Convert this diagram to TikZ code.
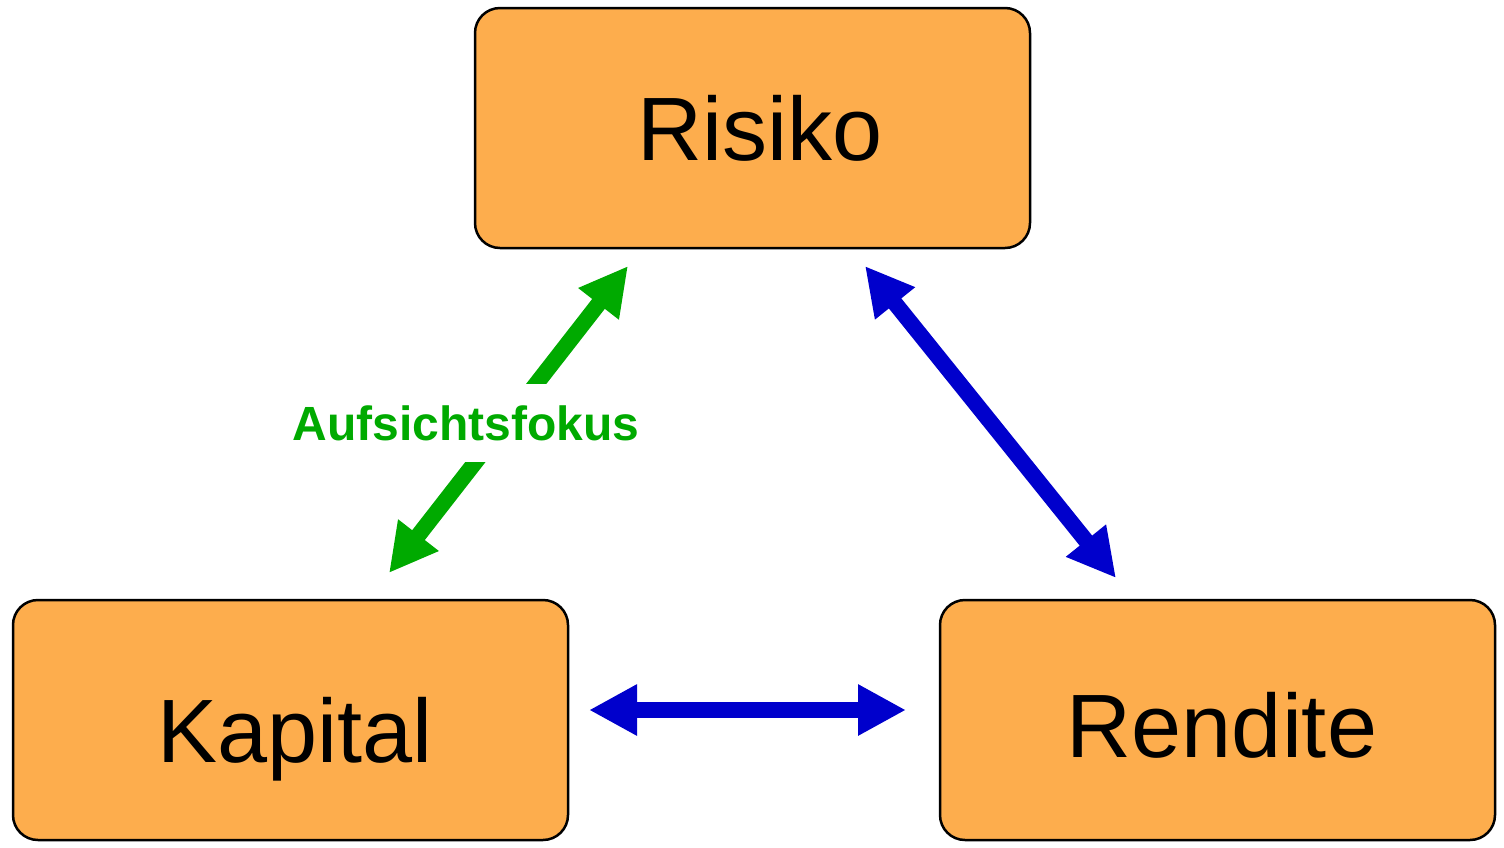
\documentclass[tikz,border=0pt]{standalone}
\usepackage{fontspec}
\setmainfont{Liberation Sans}
\usetikzlibrary{arrows.meta}
\definecolor{boxfill}{HTML}{FDAD4D}
\definecolor{grn}{HTML}{00AA00}
\definecolor{blu}{HTML}{0000CC}
\tikzset{
  box/.style={draw=black, line width=2.5pt, fill=boxfill, rounded corners=25pt,
    minimum width=555pt, minimum height=240pt, inner sep=0pt},
  lbl/.style={inner sep=0pt, anchor=base, font=\fontsize{90}{100}\selectfont},
  bigarrow/.style={line width=16pt, {Triangle[length=48pt,width=48pt]}-{Triangle[length=48pt,width=48pt]}},
}
\begin{document}
\begin{tikzpicture}[x=1pt,y=-1pt]
\useasboundingbox (0,0) rectangle (1504,847);
\node[box] (risiko) at (752.5,128) {};
\node[box] (kapital) at (290.5,720) {};
\node[box] (rendite) at (1217.5,720) {};
\node[lbl] (trisiko) at (760,160) {Risiko};
\node[lbl] (tkapital) at (295,762) {Kapital};
\node[lbl] (trendite) at (1222,757) {Rendite};
% green arrow
\coordinate (g1) at (389,573);
\coordinate (g2) at (628,266);
\draw[bigarrow, grn] (g1) -- (g2);
\node[fill=white, inner sep=0pt, minimum height=78pt, font=\bfseries\fontsize{48}{50}\selectfont, text=grn] (afk) at (466,423) {Aufsichtsfokus};
% blue arrows
\coordinate (b1) at (865,266);
\coordinate (b2) at (1116,578);
\draw[bigarrow, blu] (b1) -- (b2);
\coordinate (h1) at (589,710);
\coordinate (h2) at (906,710);
\draw[bigarrow, blu] (h1) -- (h2);
\end{tikzpicture}
\end{document}
